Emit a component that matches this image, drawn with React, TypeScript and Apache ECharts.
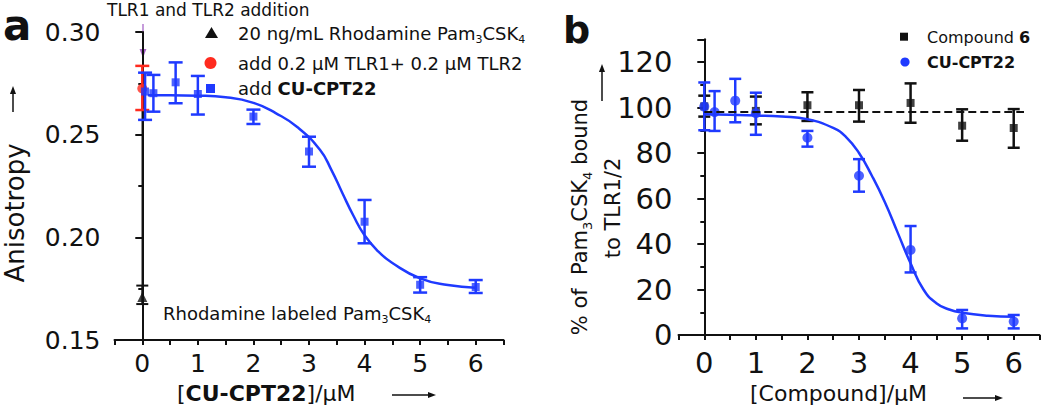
import React, { useEffect, useRef } from 'react';
import * as echarts from 'echarts';

const FONT = 'DejaVu Sans';
const BLUE = '#1f3aff';
const RED = '#ff2b1f';
const BLACK = '#111111';
const PURPLE = '#a866c8';

// ---------- Panel a ----------
const aXTicks = [0, 1, 2, 3, 4, 5, 6];
const aYTicks = [0.15, 0.2, 0.25, 0.3];
// Rhodamine Pam3CSK4 alone
const aRhodX = [0];
const aRhodY = [0.171];
const aRhodLo = [0.1675];
const aRhodHi = [0.1765];
// connecting line from the probe-only point
const aLinkX = [0, 0];
const aLinkY = [0.1765, 0.2725];
// + TLR1/TLR2
const aTlrX = [0];
const aTlrY = [0.2725];
const aTlrLo = [0.262];
const aTlrHi = [0.2835];
// + CU-CPT22
const aCptX = [0.05, 0.2, 0.6, 1, 2, 3, 4, 5, 6];
const aCptY = [0.271, 0.2702, 0.2755, 0.2698, 0.2588, 0.2418, 0.2076, 0.1769, 0.1758];
const aCptLo = [0.2572, 0.2612, 0.2653, 0.2598, 0.2552, 0.2344, 0.1971, 0.1731, 0.1729];
const aCptHi = [0.2802, 0.2791, 0.2852, 0.2786, 0.2622, 0.249, 0.2182, 0.1806, 0.1792];
// fitted curve
const aFitX = [0.1, 0.5, 1, 1.5, 2, 2.4, 2.8, 3.2, 3.4, 3.6, 3.8, 4.0, 4.25, 4.5, 5.0, 5.5, 6.0];
const aFitY = [0.2692, 0.2692, 0.269, 0.2682, 0.2655, 0.2605, 0.2535, 0.2425, 0.233, 0.2216, 0.2105, 0.201, 0.193, 0.1875, 0.18, 0.1768, 0.1755];

// ---------- Panel b ----------
const bXTicks = [0, 1, 2, 3, 4, 5, 6];
const bYTicks = [0, 20, 40, 60, 80, 100, 120];
// Compound 6
const bC6X = [0, 1, 2, 3, 4, 5, 6];
const bC6Y = [100.5, 98.5, 101, 101, 102, 92, 91];
const bC6Lo = [96, 92.6, 94.1, 93.8, 93.3, 85.4, 82.3];
const bC6Hi = [105.2, 104.8, 106.7, 107.7, 110.6, 99.2, 99.3];
const bC6FitX = [0, 6.2];
const bC6FitY = [98, 98];
// CU-CPT22
const bCptX = [0, 0.2, 0.6, 1, 2, 3, 4, 5, 6];
const bCptY = [100.4, 98, 103, 97.5, 86.7, 70, 37.4, 7.3, 5.9];
const bCptLo = [90, 89.7, 93.5, 88, 82.8, 63, 27.5, 2.9, 2.9];
const bCptHi = [111, 107.2, 112.6, 106.5, 89.7, 77.3, 47.9, 11, 8.8];
const bFitX = [0, 0.5, 1, 1.5, 2, 2.5, 2.75, 3, 3.25, 3.5, 3.75, 4, 4.25, 4.5, 4.75, 5, 5.5, 6];
const bFitY = [97, 96.8, 96.5, 96, 94.8, 91, 87, 80, 70, 58.5, 45, 31.5, 20, 14, 11.2, 9.8, 8.5, 8];

const pairs = (xs: number[], ys: number[]) => xs.map((x, i) => [x, ys[i]]);

function errBars(xs: number[], lo: number[], hi: number[], color: string, lw: number, hw: number, idx: number) {
  return {
    type: 'custom',
    xAxisIndex: idx,
    yAxisIndex: idx,
    data: xs.map((x, i) => [x, lo[i], hi[i]]),
    encode: { x: 0, y: [1, 2] },
    renderItem: (params: any, api: any) => {
      const x = api.value(0);
      const p1 = api.coord([x, api.value(2)]);
      const p2 = api.coord([x, api.value(1)]);
      const style = { stroke: color, lineWidth: lw, fill: 'none' };
      return {
        type: 'group',
        children: [
          { type: 'line', shape: { x1: p1[0], y1: p1[1], x2: p2[0], y2: p2[1] }, style },
          { type: 'line', shape: { x1: p1[0] - hw, y1: p1[1], x2: p1[0] + hw, y2: p1[1] }, style },
          { type: 'line', shape: { x1: p2[0] - hw, y1: p2[1], x2: p2[0] + hw, y2: p2[1] }, style },
        ],
      };
    },
  };
}

function xAxisCfg(idx: number, ticks: number[], fontSize: number, margin: number) {
  return {
    type: 'value',
    gridIndex: idx,
    min: -0.5,
    max: 6.5,
    interval: 0.5,
    axisLine: { show: true, lineStyle: { color: BLACK, width: 2 } },
    axisTick: { show: true, length: 5, lineStyle: { color: BLACK, width: 2 } },
    splitLine: { show: false },
    axisLabel: {
      color: BLACK,
      fontFamily: FONT,
      fontSize,
      margin,
      formatter: (v: number) => (ticks.some((t) => Math.abs(t - v) < 1e-9) ? String(Math.round(v)) : ''),
    },
  };
}

const sub = (size: number) => ({
  fontSize: size,
  fontFamily: FONT,
  fill: BLACK,
  verticalAlign: 'top',
  padding: [Math.round(size * 1.1), 0, 0, 0],
});

function arrow(x1: number, y1: number, x2: number, y2: number, color: string, lw: number, head: number) {
  const dx = x2 - x1;
  const dy = y2 - y1;
  const len = Math.sqrt(dx * dx + dy * dy);
  const ux = dx / len;
  const uy = dy / len;
  const bx = x2 - ux * head;
  const by = y2 - uy * head;
  const w = head * 0.38;
  return [
    { type: 'line', shape: { x1, y1, x2: bx, y2: by }, style: { stroke: color, lineWidth: lw } },
    {
      type: 'polygon',
      shape: { points: [[x2, y2], [bx - uy * w, by + ux * w], [bx + uy * w, by - ux * w]] },
      style: { fill: color },
    },
  ];
}

export default function App() {
  const ref = useRef<HTMLDivElement>(null);
  useEffect(() => {
    if (!ref.current) return;
    const chart = echarts.init(ref.current, undefined, { renderer: 'svg' });
    const option: any = {
      animation: false,
      backgroundColor: '#ffffff',
      grid: [
        { left: 114.5, top: 32, width: 389, height: 308 },
        { left: 678.5, top: 39.25, width: 361, height: 295.75 },
      ],
      xAxis: [xAxisCfg(0, aXTicks, 25, 11), xAxisCfg(1, bXTicks, 29, 13)],
      yAxis: [
        {
          type: 'value',
          gridIndex: 0,
          min: 0.15,
          max: 0.3,
          interval: 0.05,
          axisLine: { show: true, lineStyle: { color: BLACK, width: 2 } },
          axisTick: { show: true, length: 7, lineStyle: { color: BLACK, width: 2 } },
          minorTick: { show: true, splitNumber: 2, length: 4, lineStyle: { color: BLACK, width: 2 } },
          splitLine: { show: false },
          minorSplitLine: { show: false },
          axisLabel: {
            color: BLACK,
            fontFamily: FONT,
            fontSize: 25,
            margin: 14,
            formatter: (v: number) => (aYTicks.some((t) => Math.abs(t - v) < 1e-9) ? v.toFixed(2) : ''),
          },
        },
        {
          type: 'value',
          gridIndex: 1,
          min: 0,
          max: 130,
          interval: 20,
          axisLine: { show: true, lineStyle: { color: BLACK, width: 2 } },
          axisTick: { show: true, length: 7, lineStyle: { color: BLACK, width: 2 } },
          minorTick: { show: true, splitNumber: 2, length: 4, lineStyle: { color: BLACK, width: 2 } },
          splitLine: { show: false },
          minorSplitLine: { show: false },
          axisLabel: {
            color: BLACK,
            fontFamily: FONT,
            fontSize: 29,
            margin: 6,
            formatter: (v: number) => (bYTicks.some((t) => Math.abs(t - v) < 1e-9) ? String(v) : ''),
          },
        },
      ],
      series: [
        {
          type: 'line',
          xAxisIndex: 0,
          yAxisIndex: 0,
          data: pairs(aLinkX, aLinkY),
          symbol: 'none',
          lineStyle: { color: BLACK, width: 1.5 },
          z: 1,
        },
        { ...errBars(aRhodX, aRhodLo, aRhodHi, BLACK, 2, 6, 0), z: 2 },
        {
          type: 'scatter',
          xAxisIndex: 0,
          yAxisIndex: 0,
          data: pairs(aRhodX, aRhodY),
          symbol: 'triangle',
          symbolSize: 10,
          itemStyle: { color: BLACK },
          z: 3,
        },
        { ...errBars(aTlrX, aTlrLo, aTlrHi, RED, 2.5, 7, 0), z: 2 },
        {
          type: 'scatter',
          xAxisIndex: 0,
          yAxisIndex: 0,
          data: pairs(aTlrX, aTlrY),
          symbol: 'circle',
          symbolSize: 10,
          itemStyle: { color: RED },
          z: 3,
        },
        { ...errBars(aCptX, aCptLo, aCptHi, BLUE, 2.5, 7, 0), z: 4 },
        {
          type: 'scatter',
          xAxisIndex: 0,
          yAxisIndex: 0,
          data: pairs(aCptX, aCptY),
          symbol: 'rect',
          symbolSize: 8,
          itemStyle: { color: BLUE },
          z: 5,
        },
        {
          type: 'line',
          xAxisIndex: 0,
          yAxisIndex: 0,
          data: pairs(aFitX, aFitY),
          symbol: 'none',
          smooth: true,
          lineStyle: { color: BLUE, width: 2.5 },
          z: 5,
        },
        {
          type: 'line',
          xAxisIndex: 1,
          yAxisIndex: 1,
          data: pairs(bC6FitX, bC6FitY),
          symbol: 'none',
          lineStyle: { color: BLACK, width: 2, type: [8, 4] },
          z: 6,
        },
        { ...errBars(bC6X, bC6Lo, bC6Hi, BLACK, 2.5, 6, 1), z: 3 },
        {
          type: 'scatter',
          xAxisIndex: 1,
          yAxisIndex: 1,
          data: pairs(bC6X, bC6Y),
          symbol: 'rect',
          symbolSize: 8,
          itemStyle: { color: BLACK },
          z: 3,
        },
        { ...errBars(bCptX, bCptLo, bCptHi, BLUE, 2.5, 6, 1), z: 4 },
        {
          type: 'scatter',
          xAxisIndex: 1,
          yAxisIndex: 1,
          data: pairs(bCptX, bCptY),
          symbol: 'circle',
          symbolSize: 10,
          itemStyle: { color: BLUE },
          z: 4,
        },
        {
          type: 'line',
          xAxisIndex: 1,
          yAxisIndex: 1,
          data: pairs(bFitX, bFitY),
          symbol: 'none',
          smooth: true,
          lineStyle: { color: BLUE, width: 2.5 },
          z: 5,
        },
      ],
      graphic: [
        { type: 'text', x: 3, y: 25, style: { text: 'a', fontSize: 42, fontWeight: 'bold', fontFamily: FONT, fill: BLACK, align: 'left', verticalAlign: 'middle' } },
        { type: 'text', x: 563, y: 30, style: { text: 'b', fontSize: 38, fontWeight: 'bold', fontFamily: FONT, fill: BLACK, align: 'left', verticalAlign: 'middle' } },
        { type: 'text', x: 107, y: 9.5, style: { text: 'TLR1 and TLR2 addition', fontSize: 17, fontFamily: FONT, fill: BLACK, align: 'left', verticalAlign: 'middle' } },
        ...arrow(143, 24, 143, 58, PURPLE, 1.3, 9),
        // panel a legend
        { type: 'polygon', shape: { points: [[211.5, 27], [205, 38], [218, 38]] }, style: { fill: BLACK } },
        { type: 'circle', shape: { cx: 210.5, cy: 63, r: 6 }, style: { fill: RED } },
        { type: 'rect', shape: { x: 206, y: 84, width: 9, height: 9 }, style: { fill: BLUE } },
        {
          type: 'text', x: 238, y: 33,
          style: { text: '20 ng/mL Rhodamine Pam{s|3}CSK{s|4}', fontSize: 18, fontFamily: FONT, fill: BLACK, align: 'left', verticalAlign: 'middle', rich: { s: sub(11) } },
        },
        { type: 'text', x: 238, y: 63, style: { text: 'add 0.2 μM TLR1+ 0.2 μM TLR2', fontSize: 18, fontFamily: FONT, fill: BLACK, align: 'left', verticalAlign: 'middle' } },
        {
          type: 'text', x: 238, y: 88,
          style: {
            text: 'add {b|CU-CPT22}', fontSize: 18, fontFamily: FONT, fill: BLACK, align: 'left', verticalAlign: 'middle',
            rich: { b: { fontSize: 18, fontFamily: FONT, fontWeight: 'bold', fill: BLACK } },
          },
        },
        {
          type: 'text', x: 163, y: 313,
          style: { text: 'Rhodamine labeled Pam{s|3}CSK{s|4}', fontSize: 18, fontFamily: FONT, fill: BLACK, align: 'left', verticalAlign: 'middle', rich: { s: sub(11) } },
        },
        // panel a axis titles
        { type: 'text', x: 14.5, y: 213, rotation: Math.PI / 2, style: { text: 'Anisotropy', fontSize: 26, fontFamily: FONT, fill: BLACK, align: 'center', verticalAlign: 'middle' } },
        ...arrow(13, 112, 13, 86, BLACK, 1.5, 8),
        {
          type: 'text', x: 177, y: 393.5,
          style: {
            text: '[{b|CU-CPT22}]/μM', fontSize: 22, fontFamily: FONT, fill: BLACK, align: 'left', verticalAlign: 'middle',
            rich: { b: { fontSize: 22, fontFamily: FONT, fontWeight: 'bold', fill: BLACK } },
          },
        },
        ...arrow(392, 395, 436, 395, BLACK, 1.5, 8),
        // panel b legend
        { type: 'rect', shape: { x: 900, y: 32.7, width: 8, height: 8 }, style: { fill: BLACK } },
        { type: 'circle', shape: { cx: 905, cy: 62, r: 4.6 }, style: { fill: BLUE } },
        {
          type: 'text', x: 927, y: 37,
          style: {
            text: 'Compound {b|6}', fontSize: 16, fontFamily: FONT, fill: BLACK, align: 'left', verticalAlign: 'middle',
            rich: { b: { fontSize: 16, fontFamily: FONT, fontWeight: 'bold', fill: BLACK } },
          },
        },
        { type: 'text', x: 927, y: 62, style: { text: 'CU-CPT22', fontSize: 16, fontWeight: 'bold', fontFamily: FONT, fill: BLACK, align: 'left', verticalAlign: 'middle' } },
        // panel b axis titles
        {
          type: 'text', x: 580, y: 217, rotation: Math.PI / 2,
          style: { text: '% of  Pam{s|3}CSK{s|4} bound', fontSize: 21, fontFamily: FONT, fill: BLACK, align: 'center', verticalAlign: 'middle', rich: { s: sub(13) } },
        },
        { type: 'text', x: 613, y: 208, rotation: Math.PI / 2, style: { text: 'to TLR1/2', fontSize: 21, fontFamily: FONT, fill: BLACK, align: 'center', verticalAlign: 'middle' } },
        ...arrow(602, 101, 602, 64, BLACK, 1.5, 8),
        { type: 'text', x: 750, y: 393.5, style: { text: '[Compound]/μM', fontSize: 22, fontFamily: FONT, fill: BLACK, align: 'left', verticalAlign: 'middle' } },
        ...arrow(963, 398, 1003, 398, BLACK, 1.5, 8),
      ],
    };
    chart.setOption(option);
    return () => chart.dispose();
  }, []);
  return (
    <div
      ref={ref}
      style={{ position: 'absolute', left: 0, top: 0, width: 1050, height: 413, background: '#fff' }}
    />
  );
}
